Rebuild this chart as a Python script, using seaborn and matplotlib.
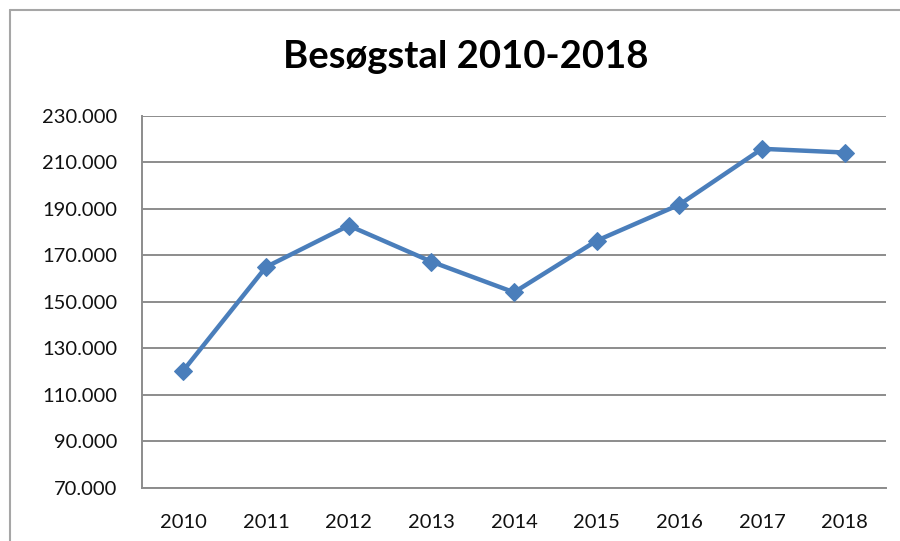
import pandas as pd
import matplotlib.pyplot as plt
import seaborn as sns
from matplotlib.lines import Line2D
from matplotlib.ticker import FuncFormatter, FixedLocator

# values
years = [2010, 2011, 2012, 2013, 2014, 2015, 2016, 2017, 2018]
visitors = [120500, 165000, 182800, 167300, 154100, 176300, 191800, 215800, 214200]
y_ticks = [70000, 90000, 110000, 130000, 150000, 170000, 190000, 210000, 230000]
title = "Besøgstal 2010-2018"

sns.set_style("white")
plt.rcParams['font.family'] = ['Lato', 'DejaVu Sans']

df = pd.DataFrame({'year': years, 'visitors': visitors})

fig = plt.figure(figsize=(9, 5.41), dpi=100)
ax = fig.add_axes([0.1578, 0.098, 0.8267, 0.688])

sns.lineplot(data=df, x='year', y='visitors', ax=ax, color='#4A7EBB',
             linewidth=3.2, marker='D', markersize=9, markeredgecolor='#4A7EBB')

ax.set_ylim(y_ticks[0], y_ticks[-1])
ax.set_yticks(y_ticks)
ax.yaxis.set_major_formatter(FuncFormatter(lambda v, _: f"{int(v):,}".replace(',', '.')))
ax.grid(axis='y', color='#8C8C8C', linewidth=1.4)
ax.set_axisbelow(True)

ax.set_xlim(years[0] - 0.5, years[-1] + 0.5)
ax.set_xticks(years)
ax.set_xticklabels([str(y) for y in years])
ax.xaxis.set_minor_locator(FixedLocator([y - 0.5 for y in years] + [years[-1] + 0.5]))
ax.tick_params(axis='x', which='major', length=0, pad=19, labelsize=14.5, colors='#111111')
ax.tick_params(axis='x', which='minor', length=8, width=1.2, color='#8C8C8C', direction='out')
ax.tick_params(axis='y', which='major', length=9, width=1.2, color='#8C8C8C', direction='out',
               pad=9, labelsize=14.5, labelcolor='#111111')
ax.set_xlabel('')
ax.set_ylabel('')

for side in ['top', 'right']:
    ax.spines[side].set_visible(False)
for side in ['left', 'bottom']:
    ax.spines[side].set_color('#8C8C8C')
    ax.spines[side].set_linewidth(1.4)

fig.text(0.517, 1 - 57 / 541, title, ha='center', va='center',
         fontsize=27.5, fontweight='bold', color='black')

# outer chart frame (only left and top edges visible in the reference)
fx, fy = 10 / 900, 1 - 10 / 541
fig.add_artist(Line2D([fx, fx], [0, fy], color='#A6A6A6', linewidth=1.5))
fig.add_artist(Line2D([fx, 1], [fy, fy], color='#A6A6A6', linewidth=1.5))

fig.savefig('out.png', dpi=100, facecolor='white')
